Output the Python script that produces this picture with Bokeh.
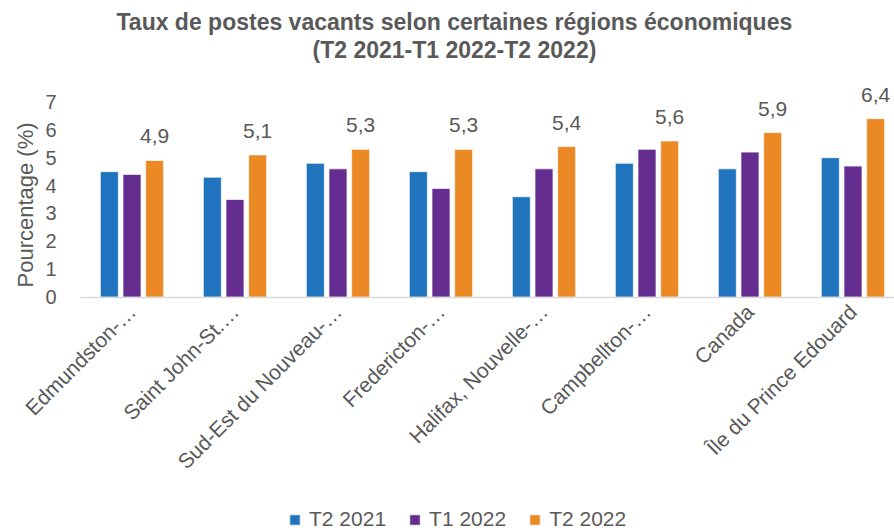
import math
from bokeh.plotting import figure
from bokeh.models import (ColumnDataSource, Range1d, FixedTicker, LabelSet, Label, Title)
from bokeh.core.properties import value
from bokeh.embed import file_html
from bokeh.resources import INLINE

# ---- data ----
regions = ["Edmundston-…", "Saint John-St.…", "Sud-Est du Nouveau-…", "Fredericton-…",
           "Halifax, Nouvelle-…", "Campbellton-…", "Canada", "Île du Prince Edouard"]
t2_2021 = [4.5, 4.3, 4.8, 4.5, 3.6, 4.8, 4.6, 5.0]
t1_2022 = [4.4, 3.5, 4.6, 3.9, 4.6, 5.3, 5.2, 4.7]
t2_2022 = [4.9, 5.1, 5.3, 5.3, 5.4, 5.6, 5.9, 6.4]
series_names = ["T2 2021", "T1 2022", "T2 2022"]
y_ticks = [0, 1, 2, 3, 4, 5, 6, 7]

title_1 = "Taux de postes vacants selon certaines régions économiques"
title_2 = "(T2 2021-T1 2022-T2 2022)"
y_label = "Pourcentage (%)"

# ---- style ----
COLORS = ["#1f74bd", "#662d91", "#eb8a25"]
GRAY = "#595959"
FONT = "Liberation Sans"
BAR_W = 0.175
OFFS = [-0.22, 0.0, 0.22]

centers = [i + 0.5 for i in range(len(regions))]
X_END = 7.903

# The plot area covers the whole canvas below the title, so that the rotated
# category labels, the y labels and the legend are not clipped; both axes are
# pinned at 0.
p = figure(width=894, height=531, output_backend="svg", toolbar_location=None,
           x_range=Range1d(-0.7767, X_END), y_range=Range1d(-8.398, 8.412),
           min_border_left=0, min_border_right=0, min_border_top=62,
           min_border_bottom=0)

for vals, name, col, off in zip([t2_2021, t1_2022, t2_2022], series_names, COLORS, OFFS):
    src = ColumnDataSource(dict(x=[c + off for c in centers], top=vals,
                                lbl=[f"{v:.1f}".replace(".", ",") for v in vals]))
    p.vbar(x="x", top="top", bottom=0, width=BAR_W, source=src, fill_color=col,
           line_color="white", line_width=1, line_alpha=0.7, legend_label=name)
    if name == "T2 2022":
        p.add_layout(LabelSet(x="x", y="top", text="lbl", source=src, y_offset=17,
                              text_align="center", text_baseline="alphabetic",
                              text_font=value(FONT), text_font_size="21px",
                              text_color=GRAY))

# axes
p.xaxis.fixed_location = 0
p.xaxis.bounds = (0, X_END)
p.xaxis.ticker = FixedTicker(ticks=centers)
p.xaxis.major_label_overrides = {c: r for c, r in zip(centers, regions)}
p.xaxis.major_label_orientation = math.pi / 4
p.xaxis.major_label_text_font = FONT
p.xaxis.major_label_text_font_size = "21px"
p.xaxis.major_label_text_color = GRAY
p.xaxis.major_label_standoff = 5
p.xaxis.axis_line_color = "#d9d9d9"
p.xaxis.axis_line_width = 1.5
p.xaxis.major_tick_line_color = None
p.xaxis.minor_tick_line_color = None

p.yaxis.fixed_location = 0
p.yaxis.bounds = (0, 7)
p.yaxis.ticker = FixedTicker(ticks=y_ticks)
p.yaxis.axis_line_color = None
p.yaxis.major_tick_line_color = None
p.yaxis.minor_tick_line_color = None
p.yaxis.major_tick_out = 0
p.yaxis.major_label_standoff = 24
p.yaxis.major_label_text_font = FONT
p.yaxis.major_label_text_font_size = "20px"
p.yaxis.major_label_text_color = GRAY

p.xgrid.grid_line_color = None
p.ygrid.grid_line_color = None
p.outline_line_color = None

# y axis title
p.add_layout(Label(x=25, y=244, x_units="screen", y_units="screen", text=y_label,
                   angle=math.pi / 2, text_align="left", text_baseline="alphabetic",
                   text_font=FONT, text_font_size="22px", text_color=GRAY))

# title (two lines); added nearest-first
p.add_layout(Title(text=title_2, align="left", offset=312, standoff=0,
                   text_font=FONT, text_font_style="bold", text_font_size="23px",
                   text_color=GRAY), "above")
p.add_layout(Title(text=title_1, align="left", offset=116, standoff=0,
                   text_font=FONT, text_font_style="bold", text_font_size="23px",
                   text_color=GRAY), "above")

# legend
lg = p.legend[0]
lg.orientation = "horizontal"
lg.location = (288, 0)
lg.border_line_color = None
lg.background_fill_alpha = 0
lg.padding = 0
lg.margin = 0
lg.spacing = 22
lg.label_standoff = 8
lg.glyph_width = 13
lg.glyph_height = 13
lg.label_text_font = FONT
lg.label_text_font_size = "21px"
lg.label_text_color = GRAY

open("out.html", "w").write(file_html(p, INLINE))
